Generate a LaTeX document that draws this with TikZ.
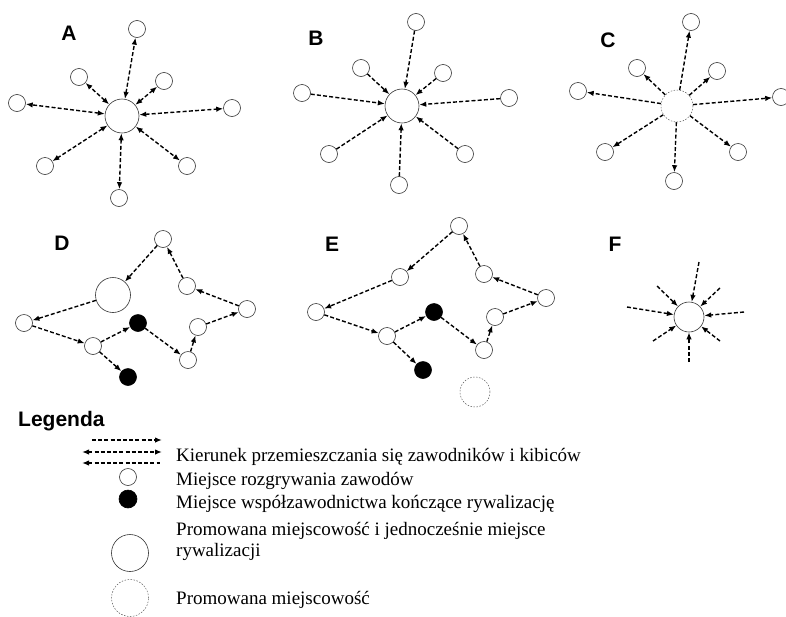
\documentclass[tikz,border=0pt]{standalone}
\usepackage{fontspec}
\setmainfont{Liberation Serif}
\setsansfont{Liberation Sans}
\usepackage{xcolor}
\usetikzlibrary{positioning,arrows.meta}

\begin{document}
\begin{tikzpicture}[
						x=1pt, y=-1pt,
						>={Latex[length=7pt,width=5.5pt]},
						spot/.style={circle, draw=black!80, line width=0.6pt, fill=white, minimum size=17pt, inner sep=0pt},
						host/.style={spot, minimum size=34pt},
						goal/.style={spot, draw=black, fill=black},
						promo/.style={circle, draw=black!65, line width=0.5pt, dash pattern=on 1.5pt off 1.5pt, minimum size=32pt, inner sep=0pt},
						flow/.style={line width=1.4pt, dash pattern=on 4pt off 2.2pt},
						lab/.style={font=\sffamily\bfseries\fontsize{21}{21}\selectfont},
						txt/.style={font=\fontsize{19}{21}\selectfont, anchor=base west, inner sep=0pt}
						]
						\useasboundingbox (0,0) rectangle (786,616);
						
						% A: ruch w obie strony
						\node[lab] (labA) at (69,33) {A};
						\node[host] (a0) at (122,116) {};
						\foreach \x/\y [count=\i] in {137/29, 79/77, 164/81, 17/103, 232/108, 45/166, 187/166, 119/198} {
							\node[spot] (a\i) at (\x,\y) {};
							\draw[flow, <->] (a0) -- (a\i);
						}
						
						% B: do srodka
						\node[lab] (labB) at (316,38) {B};
						\node[host] (b0) at (402,106) {};
						\foreach \x/\y [count=\i] in {416/22, 361/68, 443/73, 302/93, 509/98, 329/154, 465/154, 399/185} {
							\node[spot] (b\i) at (\x,\y) {};
							\draw[flow, ->] (b\i) -- (b0);
						}
						
						% C: ze srodka
						\node[lab] (labC) at (608,40) {C};
						\node[promo] (c0) at (677,106) {};
						\foreach \x/\y [count=\i] in {691/22, 637/68, 717/71, 578/91, 781/97, 605/152, 738/152, 674/181} {
							\node[spot] (c\i) at (\x,\y) {};
							\draw[flow, ->] (c0) -- (c\i);
						}
						
						% D
						\node[lab] (labD) at (62,243) {D};
						\node[spot] (d1) at (163,239) {};
						\node[host, minimum size=35pt] (dp) at (113,295) {};
						\node[spot] (d2) at (24,323) {};
						\node[spot] (d3) at (93,346) {};
						\node[goal] (dg1) at (138,323) {};
						\node[goal] (dg2) at (128,377) {};
						\node[spot] (d4) at (188,360) {};
						\node[spot] (d5) at (198,327) {};
						\node[spot] (d6) at (247,309) {};
						\node[spot] (d7) at (187,286) {};
						\foreach \s/\t in {d1/dp, dp/d2, d2/d3, d3/dg1, d3/dg2, dg1/d4, d4/d5, d5/d6, d6/d7, d7/d1}
							\draw[flow, ->] (\s) -- (\t);
						
						% E
						\node[lab] (labE) at (332,244) {E};
						\node[spot] (e1) at (459,226) {};
						\node[spot] (e2) at (400,277) {};
						\node[spot] (e3) at (316,312) {};
						\node[spot] (e4) at (387,336) {};
						\node[goal] (eg1) at (434,312) {};
						\node[goal] (eg2) at (423,370) {};
						\node[spot] (e5) at (484,350) {};
						\node[spot] (e6) at (495,317) {};
						\node[spot] (e7) at (546,298) {};
						\node[spot] (e8) at (484,274) {};
						\node[promo, minimum size=30pt] (ep) at (475,392) {};
						\foreach \s/\t in {e1/e2, e2/e3, e3/e4, e4/eg1, e4/eg2, eg1/e5, e5/e6, e6/e7, e7/e8, e8/e1}
							\draw[flow, ->] (\s) -- (\t);
						
						% F: dojazd z zewnatrz
						\node[lab] (labF) at (615,244) {F};
						\node[host, minimum size=30pt] (f0) at (689,317) {};
						\foreach \x/\y [count=\i] in {699/262, 657/286, 720/288, 627/307, 744/312, 653/341, 720/341, 689/362} {
							\coordinate (f\i) at (\x,\y);
							\draw[flow, ->] (f\i) -- (f0);
						}
						
						% Legenda
						\node[lab, anchor=base west, inner sep=0pt] (leg) at (18,426) {Legenda};
						\coordinate (k1a) at (92,440);
						\coordinate (k1b) at (162,440);
						\coordinate (k2a) at (82,452);
						\coordinate (k2b) at (162,452);
						\coordinate (k3a) at (82,463);
						\coordinate (k3b) at (160,463);
						\draw[flow, ->] (k1a) -- (k1b);
						\draw[flow, <->] (k2a) -- (k2b);
						\draw[flow, <-] (k3a) -- (k3b);
						\node[spot] (s1) at (128,477) {};
						\node[goal, minimum size=18pt] (s2) at (128,499) {};
						\node[host, minimum size=37pt] (s3) at (130,553) {};
						\node[promo, minimum size=37pt] (s4) at (130,598) {};
						
						\node[txt] (t1) at (176,461) {Kierunek przemieszczania się zawodników i kibiców};
						\node[txt] (t2) at (176,485) {Miejsce rozgrywania zawodów};
						\node[txt] (t3) at (176,508) {Miejsce współzawodnictwa kończące rywalizację};
						\node[txt] (t4) at (176,535) {Promowana miejscowość i jednocześnie miejsce};
						\node[txt] (t4b) at (176,556) {rywalizacji};
						\node[txt] (t5) at (176,604) {Promowana miejscowość};
					\end{tikzpicture}
\end{document}
